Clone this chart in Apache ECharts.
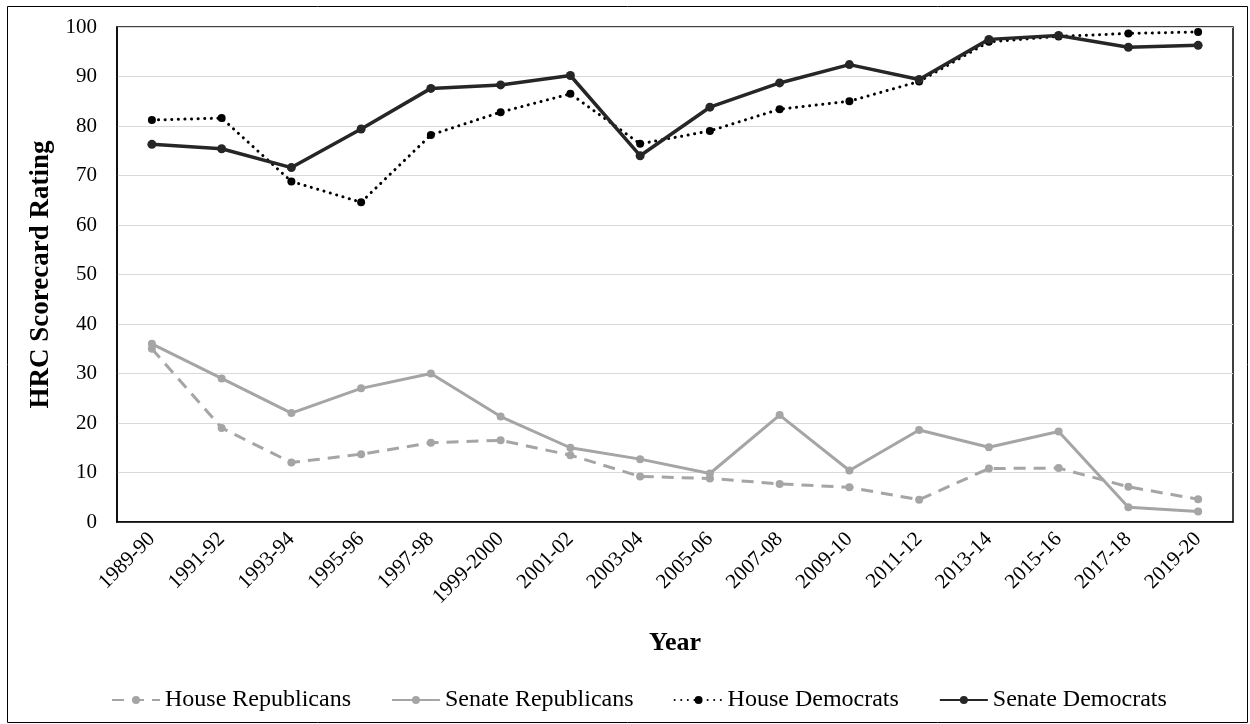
<!DOCTYPE html>
<html><head><meta charset="utf-8">
<script src="https://cdn.jsdelivr.net/npm/echarts@6/dist/echarts.min.js"></script>
<style>html,body{margin:0;padding:0;background:#fff}#c{width:1250px;height:724px}</style>
</head><body><div id="c"></div>
<script>
var categories = ['1989-90','1991-92','1993-94','1995-96','1997-98','1999-2000','2001-02','2003-04','2005-06','2007-08','2009-10','2011-12','2013-14','2015-16','2017-18','2019-20'];
var houseRepublicans = [35, 19, 12, 13.7, 16, 16.5, 13.5, 9.2, 8.8, 7.7, 7, 4.5, 10.8, 10.9, 7.1, 4.6];
var senateRepublicans = [36, 29, 22, 27, 30, 21.3, 15, 12.7, 9.8, 21.6, 10.4, 18.6, 15.1, 18.3, 3, 2.1];
var houseDemocrats = [81.2, 81.6, 68.8, 64.6, 78.2, 82.8, 86.5, 76.4, 79, 83.4, 85, 89, 97, 98.1, 98.7, 99];
var senateDemocrats = [76.3, 75.4, 71.6, 79.4, 87.6, 88.3, 90.2, 74, 83.8, 88.7, 92.4, 89.4, 97.5, 98.3, 95.9, 96.3];
var yTicks = {min: 0, max: 100, interval: 10};

var FONT = 'Liberation Serif';
var chart = echarts.init(document.getElementById('c'), null, {renderer: 'canvas'});
chart.setOption({
  backgroundColor: '#fff',
  animation: false,
  graphic: [{type: 'rect', shape: {x: 7.5, y: 6.5, width: 1240, height: 716}, style: {fill: 'none', stroke: '#000', lineWidth: 1}, z: -1}],
  grid: {left: 117, top: 27, right: 17, bottom: 202, show: true, borderColor: '#000', borderWidth: 1.5, backgroundColor: 'transparent'},
  legend: {
    top: 683, left: 106, itemWidth: 48, itemHeight: 10, itemGap: 40,
    textStyle: {fontFamily: FONT, fontSize: 24, color: '#000'},
    data: ['House Republicans', 'Senate Republicans', 'House Democrats', 'Senate Democrats']
  },
  xAxis: {
    type: 'category', data: categories, boundaryGap: true,
    name: 'Year', nameLocation: 'middle', nameGap: 108,
    nameTextStyle: {fontFamily: FONT, fontSize: 26, fontWeight: 'bold', color: '#000'},
    axisLine: {lineStyle: {color: '#000', width: 1.5}},
    axisTick: {show: false},
    axisLabel: {rotate: 45, margin: 14, fontFamily: FONT, fontSize: 21, color: '#000', interval: 0}
  },
  yAxis: {
    type: 'value', min: yTicks.min, max: yTicks.max, interval: yTicks.interval,
    name: 'HRC Scorecard Rating', nameLocation: 'middle', nameGap: 60,
    nameTextStyle: {fontFamily: FONT, fontSize: 27, fontWeight: 'bold', color: '#000'},
    axisLine: {show: true, lineStyle: {color: '#000', width: 1.5}},
    axisTick: {show: false},
    axisLabel: {margin: 20, fontFamily: FONT, fontSize: 21, color: '#000'},
    splitLine: {lineStyle: {color: '#d9d9d9', width: 1}}
  },
  series: [
    {name: 'House Republicans', type: 'line', data: houseRepublicans, symbol: 'circle', symbolSize: 8,
     itemStyle: {color: '#a5a5a5'}, lineStyle: {color: '#a5a5a5', width: 3, type: [12, 8]}, z: 2},
    {name: 'Senate Republicans', type: 'line', data: senateRepublicans, symbol: 'circle', symbolSize: 8,
     itemStyle: {color: '#a5a5a5'}, lineStyle: {color: '#a5a5a5', width: 3}, z: 3},
    {name: 'House Democrats', type: 'line', data: houseDemocrats, symbol: 'circle', symbolSize: 8,
     itemStyle: {color: '#000'}, lineStyle: {color: '#000', width: 3, type: [0.1, 6.5], cap: 'round'}, z: 4},
    {name: 'Senate Democrats', type: 'line', data: senateDemocrats, symbol: 'circle', symbolSize: 9,
     itemStyle: {color: '#262626'}, lineStyle: {color: '#262626', width: 3.5}, z: 5}
  ]
});
</script></body></html>
